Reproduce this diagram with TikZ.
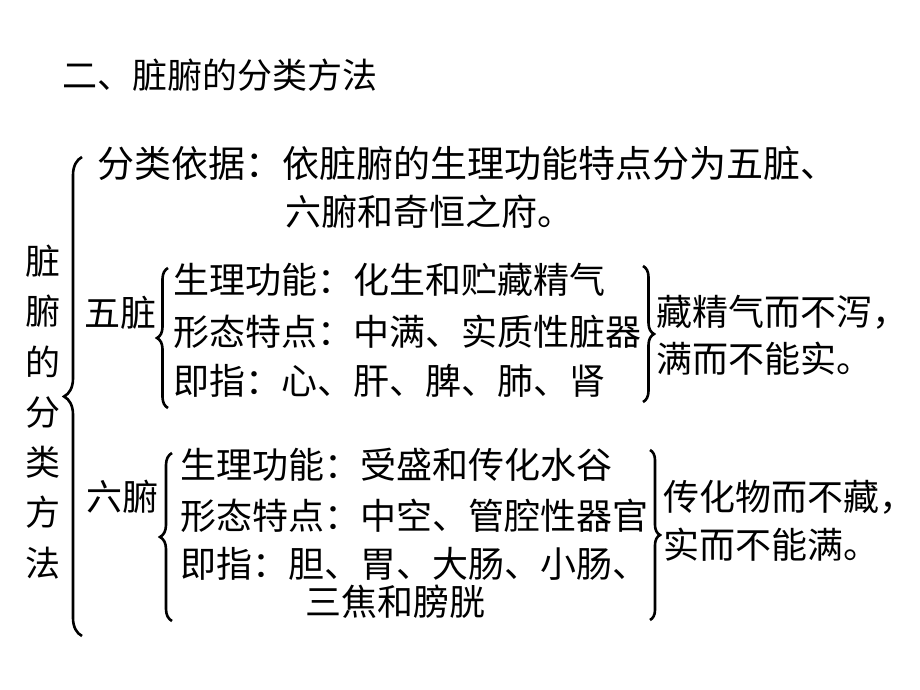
\documentclass[tikz,border=0pt]{standalone}
\usepackage{fontspec}
\newfontfamily\cjk{Noto Sans CJK SC}
\usetikzlibrary{decorations.pathreplacing}
\begin{document}
\begin{tikzpicture}[x=1pt,y=-1pt,
  txt/.style={anchor=west, inner sep=0pt, font=\cjk\fontsize{36}{40}\selectfont},
  ttl/.style={anchor=west, inner sep=0pt, font=\cjk\fontsize{35}{40}\selectfont},
  vtxt/.style={inner sep=0pt, align=center, font=\cjk\fontsize{35}{50.3}\selectfont},
  brc/.style={line width=2.6pt, decorate, decoration={brace, amplitude=#1}}
]
\fill[white] (0,0) rectangle (920,690);
\useasboundingbox (0,0) rectangle (920,690);

\node[ttl] (title) at (62,75) {二、脏腑的分类方法};

\node[vtxt] (main) at (43,412) {脏\\腑\\的\\分\\类\\方\\法};

\node[txt, font=\cjk\fontsize{37}{40}\selectfont] (basis1) at (97,163) {分类依据：依脏腑的生理功能特点分为五脏、};
\node[txt] (basis2) at (285,212) {六腑和奇恒之府。};

\node[txt] (wz) at (84,313) {五脏};
\node[txt] (wz1) at (173,280) {生理功能：化生和贮藏精气};
\node[txt] (wz2) at (173,332) {形态特点：中满、实质性脏器};
\node[txt] (wz3) at (173,381) {即指：心、肝、脾、肺、肾};
\node[txt] (wzr1) at (656,312) {藏精气而不泻，};
\node[txt] (wzr2) at (656,359) {满而不能实。};

\node[txt] (lf) at (86,497) {六腑};
\node[txt] (lf1) at (180,465) {生理功能：受盛和传化水谷};
\node[txt] (lf2) at (180,516) {形态特点：中空、管腔性器官};
\node[txt] (lf3) at (180,564) {即指：胆、胃、大肠、小肠、};
\node[txt] (lf4) at (305,602) {三焦和膀胱};
\node[txt] (lfr1) at (663,497) {传化物而不藏，};
\node[txt] (lfr2) at (663,545) {实而不能满。};

\coordinate (b0t) at (82,157);
\coordinate (b0b) at (82,636);
\coordinate (b1t) at (168,268);
\coordinate (b1b) at (168,408);
\coordinate (b2t) at (643,266);
\coordinate (b2b) at (643,402);
\coordinate (b3t) at (172,453);
\coordinate (b3b) at (172,621);
\coordinate (b4t) at (650,450);
\coordinate (b4b) at (650,620);

\draw[brc=18] (b0b) -- (b0t);
\draw[brc=11] (b1b) -- (b1t);
\draw[brc=11] (b2t) -- (b2b);
\draw[brc=12] (b3b) -- (b3t);
\draw[brc=10] (b4t) -- (b4b);
\end{tikzpicture}
\end{document}
